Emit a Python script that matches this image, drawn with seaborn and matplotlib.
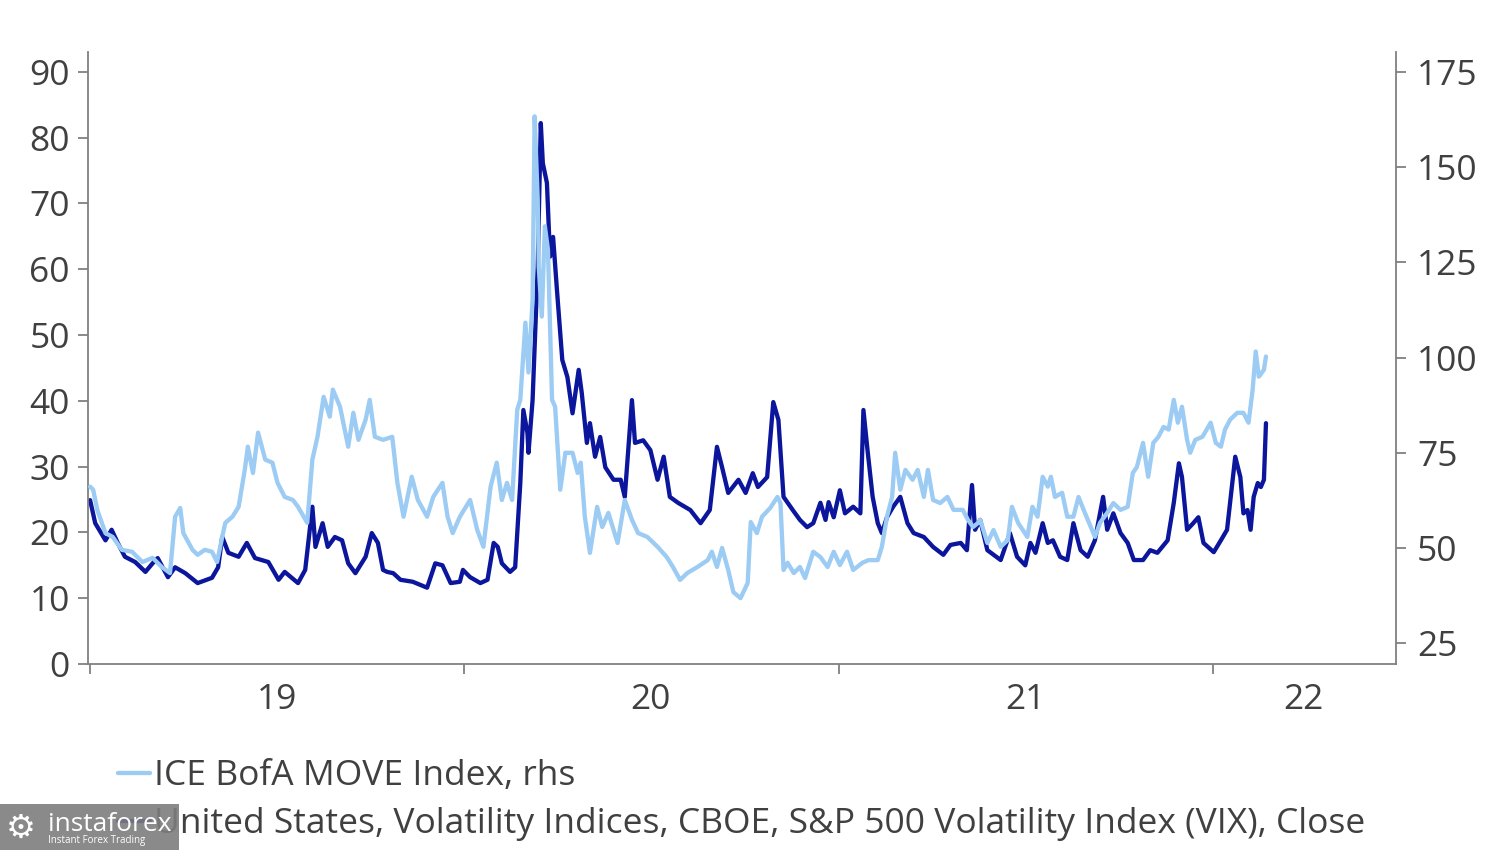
import pandas as pd
import seaborn as sns
import matplotlib.pyplot as plt
from matplotlib.lines import Line2D
from matplotlib.patches import Rectangle

# days counted from 2019-01-01
vix_days = [0, 5, 15, 21, 27, 34, 44, 54, 61, 66, 76, 83, 93, 105, 119, 125, 129, 135, 145, 153,
            161, 174, 184, 190, 203, 210, 217, 220, 227, 232, 239, 246, 252, 259, 269, 275, 281, 286, 290, 296,
            303, 315, 329, 337, 344, 352, 361, 364, 371, 381, 388, 394, 398, 402, 410, 415, 420, 423, 427, 428,
            432, 437, 440, 442, 446, 449, 452, 456, 461, 466, 471, 477, 480, 485, 488, 493, 498, 503, 511, 518,
            522, 529, 532, 540, 547, 554, 560, 566, 574, 586, 596, 605, 612, 617, 623, 633, 640, 647, 652, 661,
            667, 672, 677, 686, 693, 700, 706, 713, 718, 721, 726, 732, 737, 745, 752, 755, 759, 764, 769, 773,
            778, 784, 791, 798, 804, 814, 823, 833, 840, 850, 856, 861, 864, 869, 876, 889, 898, 905, 913, 918,
            923, 930, 935, 940, 947, 954, 960, 967, 974, 981, 989, 993, 999, 1006, 1013, 1019, 1028, 1035, 1042, 1052,
            1058, 1063, 1066, 1071, 1077, 1082, 1087, 1097, 1104, 1110, 1118, 1123, 1126, 1130, 1133, 1136, 1140, 1143, 1146, 1148]
vix_vals = [24.9, 21.4, 18.8, 20.4, 18.4, 16.3, 15.5, 14.0, 15.3, 16.1, 13.2, 14.7, 13.8, 12.3, 13.1, 14.7, 19.3, 16.9, 16.3, 18.4,
            16.1, 15.5, 12.8, 14.0, 12.3, 14.3, 23.9, 17.8, 21.4, 17.8, 19.3, 18.8, 15.3, 13.8, 16.3, 19.9, 18.4, 14.3, 14.0, 13.8,
            12.8, 12.5, 11.6, 15.3, 15.0, 12.3, 12.5, 14.3, 13.2, 12.3, 12.8, 18.4, 17.8, 15.3, 14.0, 14.7, 27.5, 38.6, 35.1, 32.1,
            40.1, 60.3, 82.2, 76.1, 73.1, 61.9, 64.9, 56.4, 46.2, 43.6, 38.1, 44.7, 41.2, 33.6, 36.6, 31.5, 34.5, 29.9, 28.0, 28.0,
            25.4, 40.1, 33.6, 34.0, 32.5, 28.0, 31.5, 25.4, 24.5, 23.4, 21.4, 23.4, 33.0, 29.9, 26.0, 28.0, 26.0, 29.0, 26.9, 28.4,
            39.8, 37.1, 25.4, 23.4, 21.9, 20.8, 21.4, 24.5, 21.9, 24.6, 22.3, 26.4, 22.9, 23.9, 22.9, 38.6, 32.5, 25.4, 21.4, 19.9,
            22.3, 23.9, 25.4, 21.4, 19.9, 19.3, 17.8, 16.6, 18.1, 18.4, 17.3, 27.2, 20.4, 21.9, 17.3, 15.8, 19.9, 16.3, 15.0, 18.4,
            16.9, 21.4, 18.4, 18.8, 16.3, 15.8, 21.4, 17.3, 16.3, 18.8, 25.4, 20.4, 22.9, 19.9, 18.4, 15.8, 15.8, 17.3, 16.9, 18.8,
            24.5, 30.5, 28.4, 20.4, 21.4, 22.3, 18.4, 17.0, 18.8, 20.4, 31.5, 28.4, 22.9, 23.4, 20.4, 25.4, 27.5, 26.9, 28.0, 36.6]

move_days = [0, 3, 7, 15, 22, 31, 41, 51, 61, 70, 78, 83, 88, 91, 100, 105, 112, 119, 124, 129,
             132, 139, 145, 151, 154, 159, 164, 171, 178, 183, 190, 198, 203, 212, 217, 222, 228, 234, 237, 244,
             252, 257, 262, 269, 273, 278, 286, 295, 300, 306, 314, 320, 329, 335, 344, 349, 354, 361, 371, 378,
             384, 391, 397, 402, 407, 412, 417, 420, 425, 428, 432, 434, 437, 438, 441, 444, 447, 451, 454, 459,
             464, 471, 476, 479, 483, 488, 495, 500, 506, 515, 522, 529, 535, 544, 554, 563, 569, 576, 583, 593,
             603, 607, 612, 617, 623, 628, 635, 642, 645, 651, 656, 664, 671, 674, 677, 681, 687, 693, 698, 706,
             713, 720, 726, 732, 739, 745, 754, 760, 769, 773, 778, 783, 786, 791, 796, 803, 808, 814, 818, 823,
             830, 837, 843, 852, 857, 862, 867, 869, 876, 882, 889, 896, 900, 906, 915, 920, 925, 930, 935, 938,
             942, 949, 954, 960, 965, 970, 977, 981, 986, 993, 999, 1006, 1013, 1018, 1022, 1028, 1033, 1038, 1043, 1048,
             1053, 1058, 1062, 1066, 1071, 1074, 1079, 1086, 1094, 1099, 1104, 1108, 1113, 1120, 1126, 1131, 1135, 1138, 1141, 1146, 1148]
move_vals = [66.1, 65.3, 60.0, 53.9, 52.9, 49.5, 49.0, 46.3, 47.4, 45.0, 43.4, 58.2, 60.5, 53.9, 49.5, 48.2, 49.5, 49.0, 46.3, 52.9,
             56.6, 58.2, 60.8, 70.5, 76.6, 69.7, 80.3, 73.2, 72.4, 67.1, 63.4, 62.6, 60.8, 56.6, 73.2, 79.2, 89.7, 84.5, 91.6, 87.1,
             76.6, 85.5, 78.4, 83.7, 88.9, 79.2, 78.4, 79.2, 67.1, 58.2, 68.7, 62.6, 58.2, 63.4, 67.1, 58.2, 53.9, 58.2, 62.6, 54.7,
             50.3, 66.1, 72.4, 62.6, 67.1, 62.6, 86.3, 88.9, 109.2, 96.1, 115.3, 163.4, 141.6, 124.0, 110.8, 134.5, 128.4, 88.9, 87.1, 65.3,
             75.0, 75.0, 69.7, 72.4, 58.2, 48.7, 60.8, 55.5, 59.2, 51.3, 62.6, 57.4, 53.9, 52.9, 50.3, 47.6, 45.0, 41.6, 43.4, 45.0,
             46.8, 49.0, 45.0, 50.0, 44.2, 38.4, 36.8, 40.8, 56.8, 53.9, 58.2, 60.5, 63.4, 61.8, 44.2, 46.1, 43.4, 45.0, 42.1, 49.0,
             47.6, 45.0, 49.0, 45.5, 49.0, 44.2, 46.1, 46.8, 46.8, 50.3, 58.2, 63.4, 75.0, 65.3, 70.5, 67.9, 70.5, 63.4, 70.5, 62.6,
             61.8, 63.4, 60.0, 60.0, 57.4, 55.5, 56.6, 57.4, 51.3, 54.7, 50.3, 52.1, 60.8, 56.6, 52.9, 60.8, 58.2, 68.7, 66.1, 68.7,
             63.4, 64.5, 58.2, 58.2, 63.4, 60.0, 55.5, 52.9, 56.6, 59.2, 61.8, 60.0, 60.8, 69.7, 71.3, 77.6, 68.7, 77.6, 79.2, 81.8,
             81.1, 88.9, 82.9, 87.1, 78.4, 75.0, 78.4, 79.2, 82.9, 77.6, 76.6, 81.1, 83.7, 85.5, 85.5, 82.9, 91.6, 101.6, 95.0, 96.8, 100.3]

year_starts = ["2019-01-01", "2020-01-01", "2021-01-01", "2022-01-01"]
year_label_pos = ["2019-07-02", "2020-07-01", "2021-07-02", "2022-03-31"]
year_labels = ["19", "20", "21", "22"]
left_ticks = [0, 10, 20, 30, 40, 50, 60, 70, 80, 90]
right_ticks = [25, 50, 75, 100, 125, 150, 175]

label_move = "ICE BofA MOVE Index, rhs"
label_vix = "United States, Volatility Indices, CBOE, S&P 500 Volatility Index (VIX), Close"

DARK = "#0b169c"
LIGHT = "#9ccbf4"
GREY = "#808080"
TXT = "#404040"

start = pd.Timestamp("2019-01-01")
vix = pd.DataFrame({"date": start + pd.to_timedelta(vix_days, unit="D"), "value": vix_vals})
move = pd.DataFrame({"date": start + pd.to_timedelta(move_days, unit="D"), "value": move_vals})

sns.set_style("white")
plt.rcParams["font.family"] = ["Open Sans", "DejaVu Sans"]

fig = plt.figure(figsize=(15, 8.5), dpi=100)
ax = fig.add_axes([0.0587, 0.2188, 0.872, 0.72])
ax2 = ax.twinx()

sns.lineplot(data=vix, x="date", y="value", ax=ax, color=DARK, linewidth=3.1)
sns.lineplot(data=move, x="date", y="value", ax=ax2, color=LIGHT, linewidth=3.1)

ax.set_xlim(pd.Timestamp("2018-12-30"), pd.Timestamp("2022-06-29"))
ax.set_ylim(0, 93)
ax2.set_ylim(19.5, 180.3)

ax.set_yticks(left_ticks)
ax2.set_yticks(right_ticks)
ax.set_xticks(pd.to_datetime(year_starts), labels=[""] * len(year_starts))
ax.set_xticks(pd.to_datetime(year_label_pos), labels=year_labels, minor=True)

for a in (ax, ax2):
    a.set_xlabel("")
    a.set_ylabel("")
    a.spines["top"].set_visible(False)
    for s in ("left", "right", "bottom"):
        a.spines[s].set_color(GREY)
        a.spines[s].set_linewidth(1.3)
ax.spines["right"].set_visible(False)
ax2.spines["left"].set_visible(False)
ax2.spines["bottom"].set_visible(False)

ax.tick_params(axis="y", which="major", direction="out", length=7, width=1.3, color=GREY,
               labelsize=25.5, labelcolor=TXT, pad=6, left=True)
ax2.tick_params(axis="y", which="major", direction="out", length=7, width=1.3, color=GREY,
                labelsize=25.5, labelcolor=TXT, pad=8, right=True)
ax.tick_params(axis="x", which="major", direction="out", length=7, width=1.3, color=GREY, bottom=True)
ax.tick_params(axis="x", which="minor", length=0, labelsize=25.5, labelcolor=TXT, pad=14)

handles = [Line2D([], [], color=LIGHT, linewidth=3.1),
           Line2D([], [], color=DARK, linewidth=3.1)]
fig.legend(handles, [label_move, label_vix], loc="lower left", bbox_to_anchor=(0.069, -0.006),
           frameon=False, fontsize=25.5, labelcolor=TXT, handlelength=0.9, handletextpad=0.12,
           labelspacing=0.38, borderaxespad=0)

# watermark badge in the lower left corner
fig.patches.append(Rectangle((0, 0), 0.119, 0.054, transform=fig.transFigure,
                             facecolor="#7d7d7d", alpha=0.9, edgecolor="none", zorder=10))
fig.text(0.004, 0.026, "\u2699", color="white", fontsize=24, va="center", ha="left",
         family=["DejaVu Sans"], zorder=11)
fig.text(0.032, 0.03, "instaforex", color="white", fontsize=19, va="center", ha="left", zorder=11)
fig.text(0.032, 0.011, "Instant Forex Trading", color="white", fontsize=7, va="center", ha="left", zorder=11)

fig.savefig("out.png", dpi=100)
